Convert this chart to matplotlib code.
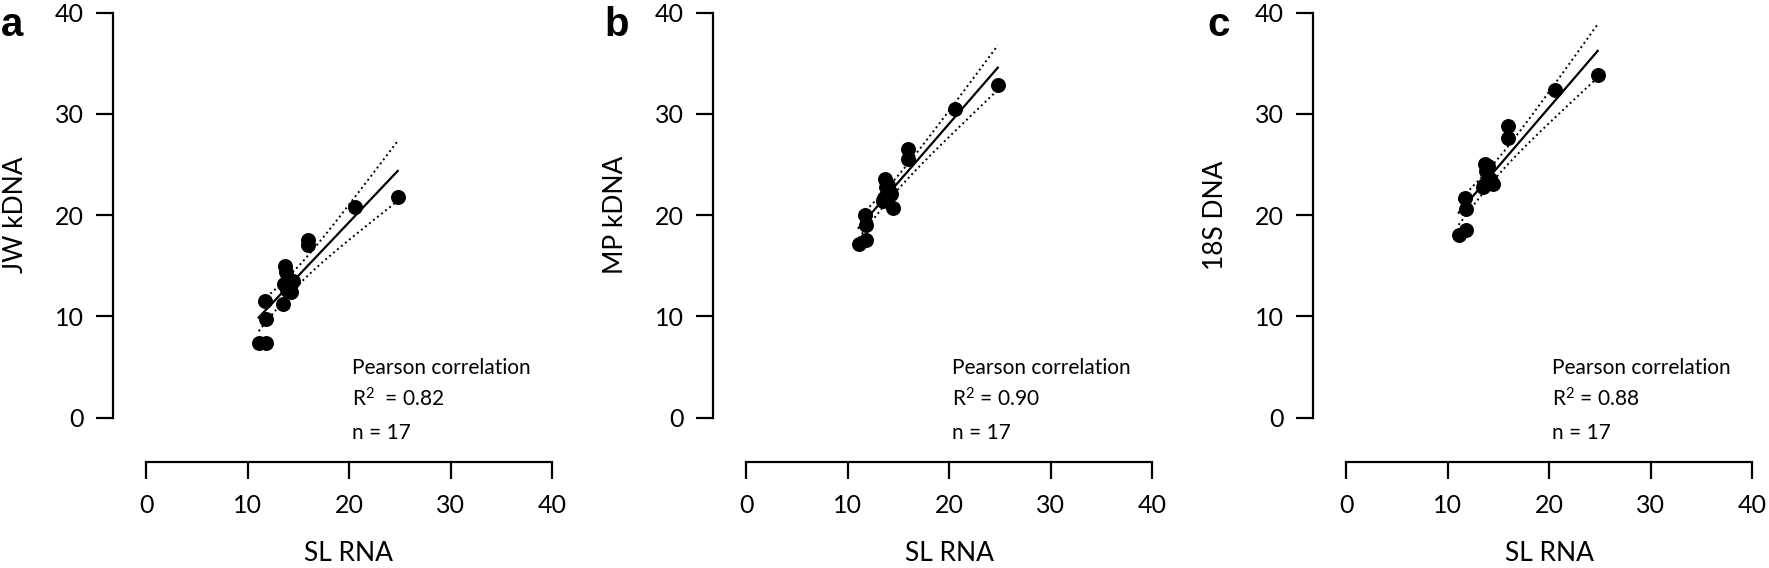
import numpy as np
import matplotlib.pyplot as plt

# SL RNA Ct values (shared x) and the three compared targets
sl_rna = [11.1, 11.8, 11.8, 11.7, 13.5, 13.6, 13.7, 13.8, 13.9, 14.0, 14.2, 14.3, 14.5, 16.0, 16.0, 20.6, 24.8]
jw_kdna = [7.4, 7.4, 9.7, 11.5, 11.2, 13.2, 15.0, 14.4, 12.6, 13.7, 13.0, 12.4, 13.5, 17.5, 17.0, 20.8, 21.8]
mp_kdna = [17.1, 17.5, 19.0, 20.0, 21.4, 21.7, 23.6, 22.8, 22.0, 23.0, 22.3, 22.1, 20.7, 26.5, 25.5, 30.5, 32.8]
dna_18s = [18.0, 18.5, 20.6, 21.7, 22.8, 23.0, 25.0, 24.4, 23.2, 24.8, 23.6, 23.4, 23.1, 28.8, 27.6, 32.4, 33.8]

panel_letters = ['a', 'b', 'c']
y_labels = ['JW kDNA', 'MP kDNA', '18S DNA']
r2_labels = ['R$^2$  = 0.82', 'R$^2$ = 0.90', 'R$^2$ = 0.88']
n_label = 'n = 17'
ticks = [0, 10, 20, 30, 40]

plt.rcParams['font.family'] = ['Lato', 'DejaVu Sans']
plt.rcParams['mathtext.fontset'] = 'custom'
plt.rcParams['mathtext.rm'] = 'Lato'
plt.rcParams['mathtext.it'] = 'Lato'

W, H = 1769, 568
fig = plt.figure(figsize=(W / 100, H / 100), dpi=100)

t_crit = 2.131  # t(0.975, df=15)

for i, yvals in enumerate([jw_kdna, mp_kdna, dna_18s]):
    x = np.array(sl_rna)
    y = np.array(yvals)
    ax = fig.add_axes([(146 + 600 * i) / W, 150.4 / H, 406 / W, 405 / H])

    # linear fit + 95% confidence band
    slope, icpt = np.polyfit(x, y, 1)
    xs = np.linspace(x.min(), x.max(), 100)
    fit = slope * xs + icpt
    resid = y - (slope * x + icpt)
    s_err = np.sqrt(np.sum(resid ** 2) / (len(x) - 2))
    se = s_err * np.sqrt(1 / len(x) + (xs - x.mean()) ** 2 / np.sum((x - x.mean()) ** 2))
    ax.plot(xs, fit, color='black', lw=1.6, zorder=2)
    ax.plot(xs, fit + t_crit * se, color='black', lw=1.4, ls=':', zorder=2)
    ax.plot(xs, fit - t_crit * se, color='black', lw=1.4, ls=':', zorder=2)
    ax.scatter(x, y, s=95, color='black', zorder=3, clip_on=False)

    ax.set_xlim(0, 40)
    ax.set_ylim(0, 40)
    ax.set_xticks(ticks)
    ax.set_yticks(ticks)
    ax.tick_params(length=12, width=1.6, labelsize=18, pad=9)
    ax.tick_params(axis='x', pad=11)
    for side in ['top', 'right']:
        ax.spines[side].set_visible(False)
    ax.spines['left'].set_position(('outward', 24))
    ax.spines['bottom'].set_position(('outward', 32))
    for side in ['left', 'bottom']:
        ax.spines[side].set_linewidth(1.6)

    ax.set_xlabel('SL RNA', fontsize=19)
    ax.set_ylabel(y_labels[i], fontsize=19)
    ax.xaxis.set_label_coords(0.5, -0.305)
    ax.yaxis.set_label_coords(-0.29, 0.5)

    ax.text(20.3, 4.3, 'Pearson correlation', fontsize=15)
    ax.text(20.3, 1.1, r2_labels[i], fontsize=15)
    ax.text(20.3, -2.1, n_label, fontsize=15)

    fig.text((1 + 603 * i) / W, 1 - 6 / H, panel_letters[i], fontsize=29,
             fontweight='bold', family='Liberation Sans', ha='left', va='top')

fig.savefig('out.png', dpi=100)
